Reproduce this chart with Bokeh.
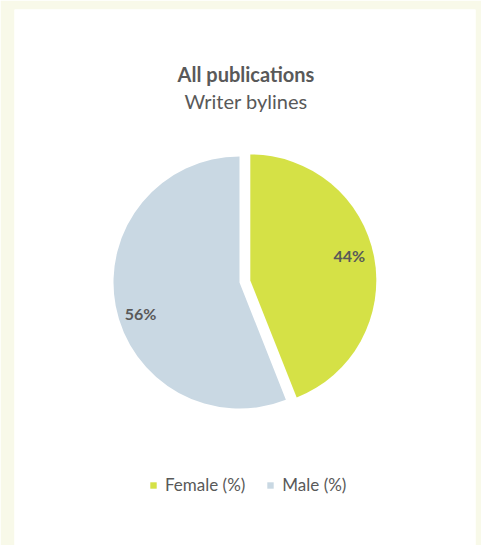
import math
from bokeh.plotting import figure
from bokeh.models import ColumnDataSource, Range1d, Label, Legend, LegendItem
from bokeh.core.properties import value
from bokeh.embed import file_html
from bokeh.resources import INLINE

# ---- data ----
categories = ["Female (%)", "Male (%)"]
shares = [44, 56]
pct_labels = ["44%", "56%"]
colors = ["#d5e146", "#c9d8e3"]
title_text = "All publications"
subtitle_text = "Writer bylines"

# ---- layout (pixel-like data units inside the white panel) ----
W, H = 481, 545
left, right, top, bottom = 14, 6, 9, 0
PW, PH = W - left - right, H - top - bottom
cx, cy = 225.0, 263.0          # pie centre
radius = 126.0
explode = [11.0, 0.0]
label_r = 0.8
label_nudge = [(0, 6), (0, -12)]
text_color = "#595959"
font = "Lato"

total = float(sum(shares))
starts, ends, xs, ys, lx, ly = [], [], [], [], [], []
angle = math.pi / 2
for i, v in enumerate(shares):
    span = 2 * math.pi * v / total
    end = angle
    start = angle - span
    mid = (start + end) / 2
    x0 = cx + explode[i] * math.cos(mid)
    y0 = cy + explode[i] * math.sin(mid)
    starts.append(start)
    ends.append(end)
    xs.append(x0)
    ys.append(y0)
    lx.append(x0 + label_r * radius * math.cos(mid) + label_nudge[i][0])
    ly.append(y0 + label_r * radius * math.sin(mid) + label_nudge[i][1])
    angle = start

src = ColumnDataSource(dict(cat=categories, x=xs, y=ys, start=starts, end=ends,
                            color=colors, lx=lx, ly=ly, lab=pct_labels))

p = figure(width=W, height=H, output_backend="svg", toolbar_location=None,
           x_range=Range1d(0, PW), y_range=Range1d(0, PH),
           min_border_left=left, min_border_right=right,
           min_border_top=top, min_border_bottom=bottom)
p.background_fill_color = "white"
p.border_fill_color = "#f8f9e9"
p.outline_line_color = None
p.axis.visible = False
p.grid.visible = False

r = p.wedge(x="x", y="y", radius=radius, start_angle="start", end_angle="end",
            direction="anticlock", fill_color="color", line_color=None, source=src)

p.text(x="lx", y="ly", text="lab", source=src, text_align="center",
       text_baseline="middle", text_font=value(font), text_font_style="bold",
       text_font_size="16px", text_color=text_color)

p.add_layout(Label(x=PW / 2 + 1, y=PH - 64, text=title_text, text_align="center",
                   text_baseline="middle", text_font=font, text_font_style="bold",
                   text_font_size="20px", text_color=text_color))
p.add_layout(Label(x=PW / 2 + 1, y=PH - 91, text=subtitle_text, text_align="center",
                   text_baseline="middle", text_font=font, text_font_size="20px",
                   text_color=text_color))

legend = Legend(items=[LegendItem(label=categories[i], renderers=[r], index=i)
                       for i in range(len(categories))],
                orientation="horizontal", location=(135, 50),
                glyph_width=8, glyph_height=8, label_standoff=8, spacing=21,
                padding=0, margin=0, border_line_color=None,
                background_fill_alpha=0,
                label_text_font=font, label_text_font_size="17px",
                label_text_color=text_color, label_height=20)
p.add_layout(legend)

open("out.html", "w").write(file_html(p, INLINE))
